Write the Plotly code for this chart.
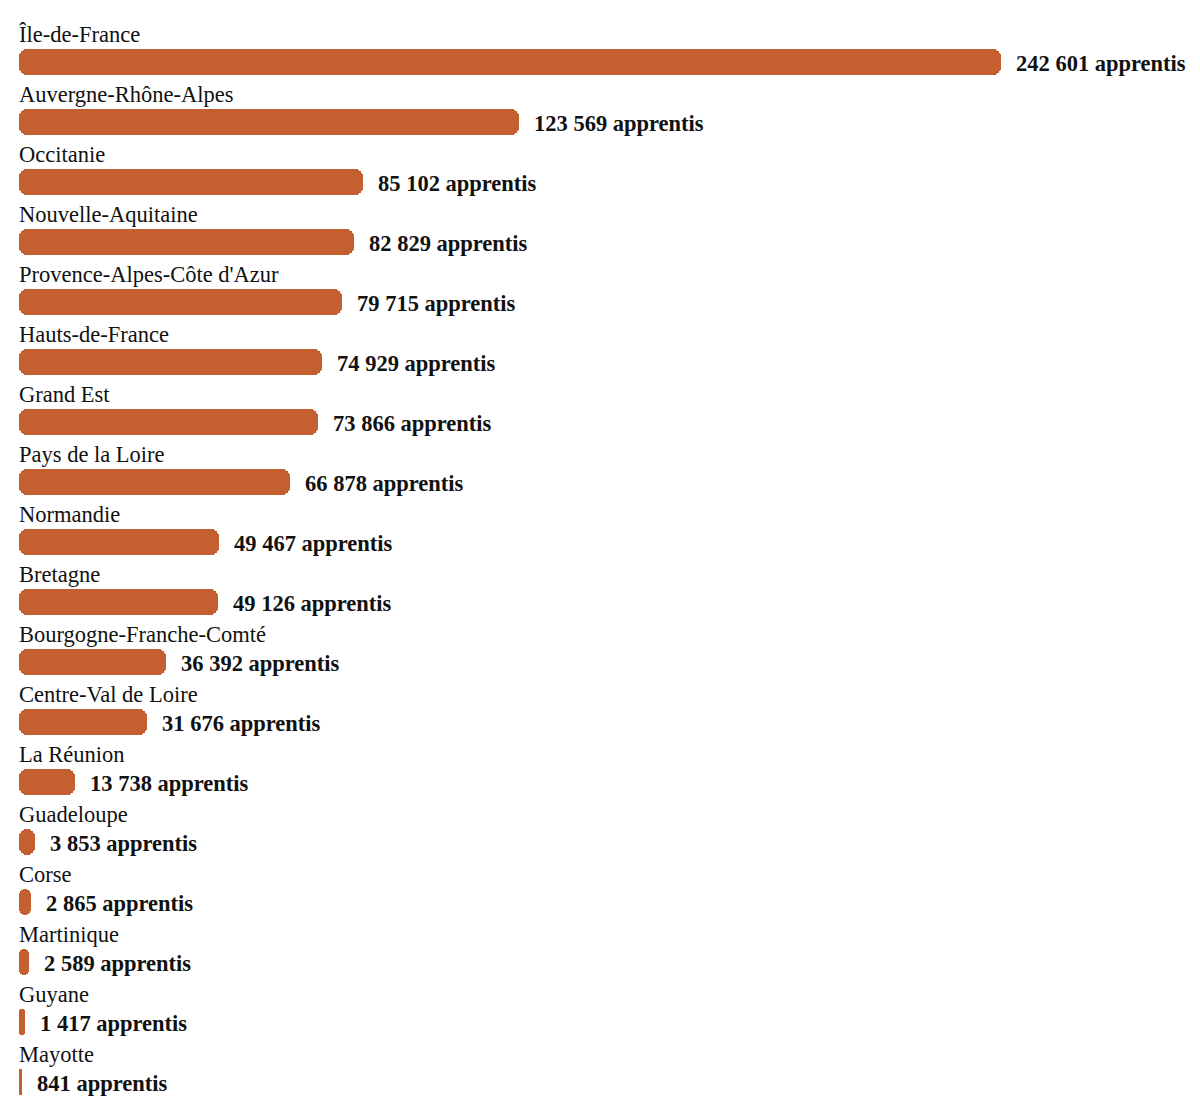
import plotly.graph_objects as go

regions = ["Île-de-France", "Auvergne-Rhône-Alpes", "Occitanie", "Nouvelle-Aquitaine",
           "Provence-Alpes-Côte d'Azur", "Hauts-de-France", "Grand Est", "Pays de la Loire",
           "Normandie", "Bretagne", "Bourgogne-Franche-Comté", "Centre-Val de Loire",
           "La Réunion", "Guadeloupe", "Corse", "Martinique", "Guyane", "Mayotte"]
apprentis = [242601, 123569, 85102, 82829, 79715, 74929, 73866, 66878,
             49467, 49126, 36392, 31676, 13738, 3853, 2865, 2589, 1417, 841]

def fmt(v):
    return f"{v:,}".replace(",", " ") + " apprentis"

FONT = "Liberation Serif, Times New Roman, serif"
COLOR = "#C45F32"
ypos = list(range(len(regions)))

# explicit base -> plotly rounds both ends of each bar
fig = go.Figure(go.Bar(
    x=apprentis, base=[0] * len(apprentis), y=ypos, orientation="h", width=0.42,
    marker=dict(color=COLOR, cornerradius=8, line=dict(width=0)),
    hoverinfo="skip",
))

annotations = []
for i, (r, v) in enumerate(zip(regions, apprentis)):
    annotations.append(dict(x=0, y=i, xref="x", yref="y", text=r, showarrow=False,
                            xanchor="left", yanchor="middle", yshift=28, xshift=-2,
                            font=dict(family=FONT, size=22.5, color="#111")))
    annotations.append(dict(x=v, y=i, xref="x", yref="y", text=f"<b>{fmt(v)}</b>",
                            showarrow=False, xanchor="left", yanchor="middle",
                            xshift=13, yshift=-1,
                            font=dict(family=FONT, size=22.5, color="#111")))

xmax = 1181 * 242601 / 982
fig.update_layout(
    width=1200, height=1118,
    margin=dict(l=19, r=0, t=0, b=6),
    paper_bgcolor="white", plot_bgcolor="white",
    showlegend=False,
    xaxis=dict(range=[0, xmax], visible=False, fixedrange=True),
    yaxis=dict(range=[17.5, -62/60], visible=False, fixedrange=True),
    annotations=annotations,
    bargap=0,
)
fig.write_html("out.html", config={"displayModeBar": False})
